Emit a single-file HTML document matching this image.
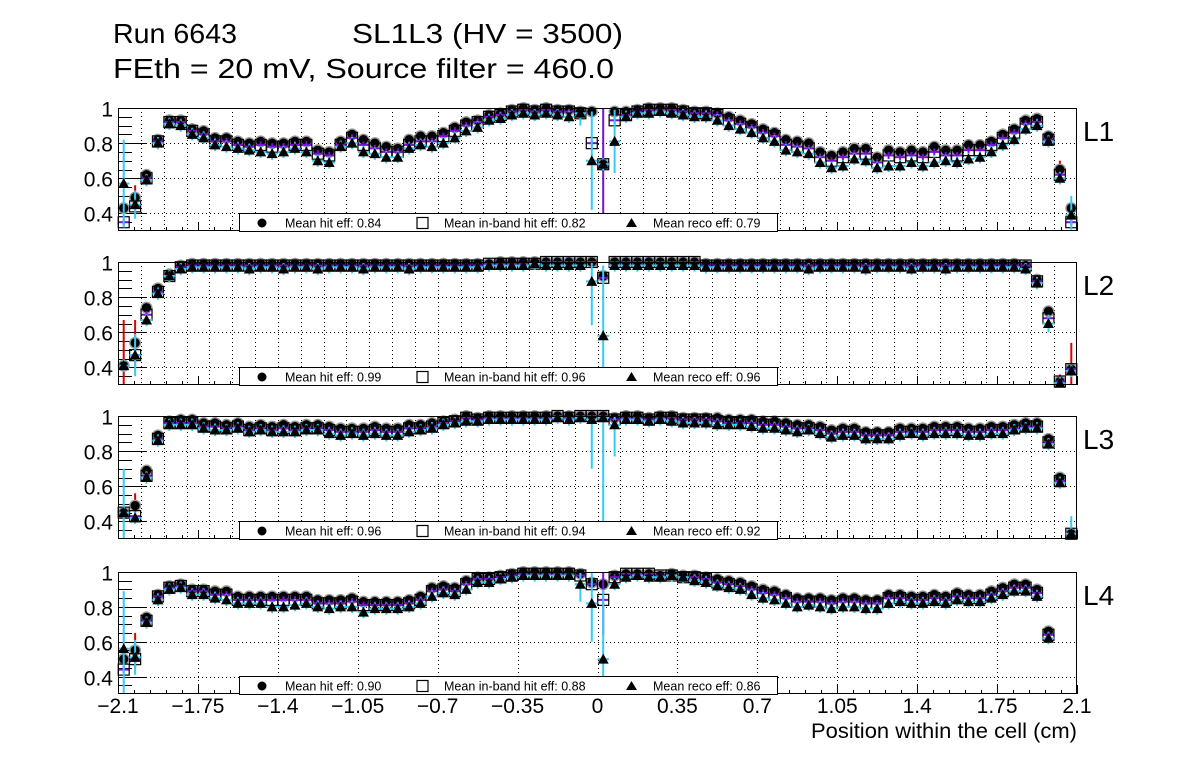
<!DOCTYPE html>
<html><head><meta charset="utf-8">
<style>
html,body{margin:0;padding:0;background:#fff;}
svg{display:block;font-family:"Liberation Sans",Arial,sans-serif;}
</style></head>
<body>
<svg id="chart" width="1196" height="772" viewBox="0 0 1196 772" xmlns="http://www.w3.org/2000/svg">
<rect x="0" y="0" width="1196" height="772" fill="#fff"/>
<text x="113" y="43" font-size="28" textLength="124" lengthAdjust="spacingAndGlyphs">Run 6643</text>
<text x="352" y="43" font-size="28" textLength="271" lengthAdjust="spacingAndGlyphs">SL1L3 (HV = 3500)</text>
<text x="113" y="78" font-size="28" textLength="501" lengthAdjust="spacingAndGlyphs">FEth = 20 mV, Source filter = 460.0</text>
<text x="1077" y="738" font-size="21" text-anchor="end" textLength="266" lengthAdjust="spacingAndGlyphs">Position within the cell (cm)</text>
<g id="panels"></g>
</svg>
<script>
const binLow = -2.1;
const binWidth = 0.05;
const nBins = 84;
const layerNames = ["L1","L2","L3","L4"];
const xTickLabels = ["\u22122.1","\u22121.75","\u22121.4","\u22121.05","\u22120.7","\u22120.35","0","0.35","0.7","1.05","1.4","1.75","2.1"];
const xTickValues = [-2.1,-1.75,-1.4,-1.05,-0.7,-0.35,0,0.35,0.7,1.05,1.4,1.75,2.1];
const yTickValues = [0.4,0.6,0.8,1.0];
const yTickLabels = ["0.4","0.6","0.8","1"];
const meanHit = ["0.84","0.99","0.96","0.90"];
const meanInband = ["0.82","0.96","0.94","0.88"];
const meanReco = ["0.79","0.96","0.92","0.86"];

const hitL1 = [0.43,0.49,0.62,0.82,0.93,0.93,0.88,0.87,0.83,0.83,0.81,0.80,0.81,0.80,0.80,0.81,0.81,0.76,0.75,0.81,0.85,0.82,0.80,0.78,0.77,0.82,0.84,0.84,0.86,0.89,0.92,0.93,0.96,0.97,0.99,1.0,0.99,1.0,0.99,0.99,0.98,0.98,
0.68,0.98,0.98,0.99,1.0,1.0,1.0,0.99,0.98,0.98,0.97,0.95,0.93,0.91,0.88,0.86,0.82,0.81,0.80,0.75,0.73,0.75,0.77,0.77,0.72,0.76,0.75,0.76,0.75,0.78,0.76,0.76,0.79,0.79,0.81,0.85,0.88,0.93,0.94,0.84,0.65,0.43];
const inbandL1 = [0.35,0.44,0.60,0.81,0.92,0.92,0.87,0.85,0.81,0.81,0.79,0.78,0.79,0.78,0.78,0.79,0.79,0.74,0.73,0.79,0.83,0.79,0.77,0.75,0.75,0.79,0.81,0.81,0.84,0.87,0.90,0.92,0.95,0.96,0.98,0.99,0.98,0.99,0.98,0.98,0.97,0.80,
0.68,0.93,0.96,0.98,0.99,0.99,0.99,0.98,0.97,0.97,0.96,0.93,0.91,0.89,0.86,0.84,0.79,0.78,0.77,0.72,0.70,0.72,0.74,0.74,0.69,0.73,0.72,0.73,0.72,0.75,0.73,0.73,0.76,0.76,0.79,0.83,0.86,0.91,0.92,0.82,0.62,0.35];
const recoL1 = [0.57,0.45,0.59,0.80,0.91,0.90,0.85,0.83,0.79,0.78,0.77,0.76,0.75,0.74,0.75,0.77,0.75,0.70,0.69,0.78,0.80,0.75,0.74,0.72,0.72,0.77,0.79,0.78,0.80,0.83,0.87,0.89,0.93,0.94,0.96,0.97,0.96,0.97,0.96,0.95,0.97,0.70,
0.68,0.81,0.95,0.97,0.97,0.98,0.97,0.96,0.95,0.95,0.93,0.90,0.88,0.86,0.83,0.81,0.76,0.75,0.74,0.69,0.66,0.67,0.71,0.70,0.66,0.67,0.67,0.69,0.67,0.69,0.70,0.69,0.71,0.72,0.75,0.79,0.82,0.88,0.90,0.81,0.60,0.39];

const hitL2 = [0.41,0.54,0.74,0.85,0.93,0.98,0.99,0.99,0.99,0.99,
0.99,0.99,0.99,0.99,0.99,0.99,0.99,0.99,0.99,0.99,
0.99,0.99,0.99,0.99,0.99,0.99,0.99,0.99,0.99,0.99,
0.99,0.99,0.99,1.0,1.0,1.0,1.0,1.0,1.0,1.0,
1.0,1.0,0.92,1.0,1.0,1.0,1.0,1.0,1.0,1.0,
1.0,0.99,0.99,0.99,0.99,0.99,0.99,0.99,0.99,0.99,
0.99,0.99,0.99,0.99,0.99,0.99,0.99,0.99,0.99,0.99,
0.99,0.99,0.99,0.99,0.99,0.99,0.99,0.99,0.99,0.98,
0.90,0.72,0.32,0.39];
const inbandL2 = [null,0.47,0.70,0.83,0.92,0.97,0.98,0.98,0.98,0.98,
0.98,0.98,0.98,0.98,0.98,0.98,0.98,0.98,0.98,0.98,
0.98,0.98,0.98,0.98,0.98,0.98,0.98,0.98,0.98,0.98,
0.98,0.98,0.99,0.99,0.99,0.99,0.99,1.0,1.0,1.0,
1.0,1.0,0.91,1.0,1.0,1.0,1.0,1.0,1.0,1.0,
1.0,0.98,0.98,0.98,0.98,0.98,0.98,0.98,0.98,0.98,
0.98,0.98,0.98,0.98,0.98,0.98,0.98,0.98,0.98,0.98,
0.98,0.98,0.98,0.98,0.98,0.98,0.98,0.98,0.98,0.98,
0.89,0.68,0.32,0.39];
const recoL2 = [0.41,0.47,0.67,0.82,0.92,0.96,0.97,0.97,0.97,0.97,
0.97,0.96,0.97,0.97,0.96,0.97,0.97,0.96,0.97,0.97,
0.97,0.96,0.97,0.97,0.97,0.96,0.97,0.97,0.97,0.97,
0.97,0.97,0.98,0.98,0.98,0.98,0.99,0.98,0.98,0.98,
0.98,0.89,0.58,0.98,0.98,0.98,0.98,0.98,0.98,0.98,
0.98,0.97,0.97,0.97,0.97,0.97,0.97,0.97,0.97,0.97,
0.96,0.97,0.97,0.97,0.97,0.96,0.97,0.97,0.97,0.96,
0.97,0.97,0.96,0.97,0.97,0.97,0.97,0.97,0.97,0.96,
0.88,0.65,0.31,0.38];

const hitL3 = [0.45,0.49,0.69,0.89,0.97,0.98,0.98,0.96,0.96,0.95,
0.96,0.94,0.95,0.94,0.95,0.94,0.95,0.95,0.94,0.93,
0.93,0.93,0.94,0.93,0.93,0.95,0.95,0.96,0.97,0.98,
1.0,0.99,1.0,1.0,1.0,1.0,1.0,1.0,1.0,1.0,
1.0,1.0,1.0,0.99,1.0,1.0,0.99,1.0,1.0,0.99,
0.99,0.99,0.99,0.98,0.98,0.98,0.97,0.97,0.96,0.95,
0.95,0.94,0.92,0.93,0.93,0.91,0.91,0.91,0.93,0.93,
0.93,0.94,0.94,0.94,0.93,0.93,0.94,0.94,0.95,0.96,
0.96,0.87,0.65,0.33];
const inbandL3 = [0.45,0.43,0.66,0.87,0.96,0.96,0.96,0.94,0.94,0.93,
0.94,0.92,0.93,0.92,0.93,0.92,0.93,0.93,0.92,0.91,
0.91,0.91,0.92,0.91,0.91,0.93,0.93,0.94,0.96,0.97,
0.99,0.98,0.99,0.99,0.99,0.99,0.99,0.99,1.0,0.99,
1.0,1.0,1.0,0.98,0.99,0.99,0.98,0.99,0.99,0.98,
0.98,0.98,0.97,0.96,0.96,0.96,0.95,0.95,0.94,0.93,
0.93,0.92,0.90,0.91,0.91,0.89,0.89,0.89,0.91,0.91,
0.91,0.92,0.92,0.92,0.91,0.91,0.92,0.92,0.93,0.94,
0.94,0.85,0.63,0.33];
const recoL3 = [0.45,0.42,0.65,0.86,0.95,0.95,0.95,0.93,0.92,0.92,
0.93,0.91,0.92,0.91,0.91,0.91,0.92,0.92,0.90,0.89,
0.90,0.89,0.90,0.89,0.89,0.91,0.92,0.93,0.95,0.96,
0.97,0.97,0.98,0.98,0.98,0.98,0.98,0.98,0.99,0.98,
0.99,0.98,0.99,0.95,0.98,0.98,0.97,0.98,0.97,0.96,
0.96,0.96,0.95,0.95,0.95,0.94,0.93,0.93,0.92,0.91,
0.92,0.90,0.88,0.89,0.89,0.87,0.87,0.87,0.89,0.90,
0.89,0.90,0.90,0.90,0.89,0.89,0.90,0.90,0.92,0.93,
0.93,0.84,0.62,0.33];

const hitL4 = [0.50,0.55,0.74,0.87,0.92,0.93,0.90,0.90,0.89,0.89,
0.86,0.86,0.86,0.86,0.86,0.86,0.86,0.84,0.84,0.84,
0.85,0.83,0.83,0.83,0.83,0.84,0.86,0.91,0.92,0.91,
0.95,0.97,0.97,0.98,0.99,1.0,1.0,1.0,1.0,1.0,
0.99,0.94,0.93,0.98,0.99,0.99,0.99,0.98,0.99,0.98,
0.98,0.97,0.96,0.95,0.94,0.92,0.90,0.89,0.87,0.85,
0.85,0.85,0.84,0.85,0.85,0.84,0.84,0.87,0.87,0.86,
0.86,0.87,0.86,0.88,0.87,0.87,0.89,0.91,0.93,0.93,
0.90,0.66,null,null];
const inbandL4 = [0.44,0.50,0.72,0.86,0.91,0.92,0.89,0.89,0.87,0.87,
0.84,0.84,0.84,0.84,0.84,0.84,0.84,0.82,0.82,0.82,
0.83,0.81,0.81,0.81,0.81,0.82,0.84,0.89,0.90,0.89,
0.93,0.96,0.96,0.97,0.98,0.99,0.99,0.99,0.99,0.99,
0.98,0.93,0.84,0.97,0.99,0.99,0.99,0.98,0.98,0.97,
0.97,0.96,0.94,0.93,0.92,0.90,0.88,0.87,0.85,0.83,
0.83,0.83,0.82,0.83,0.83,0.82,0.82,0.85,0.85,0.84,
0.84,0.85,0.84,0.86,0.85,0.85,0.87,0.89,0.91,0.91,
0.88,0.64,null,null];
const recoL4 = [0.56,0.51,0.71,0.84,0.90,0.91,0.87,0.87,0.85,0.84,
0.82,0.82,0.82,0.80,0.80,0.81,0.82,0.80,0.79,0.80,
0.80,0.77,0.79,0.79,0.79,0.80,0.82,0.86,0.88,0.87,
0.90,0.94,0.94,0.96,0.97,0.98,0.98,0.98,0.98,0.98,
0.93,0.82,0.50,0.93,0.97,0.98,0.97,0.97,0.98,0.97,
0.95,0.94,0.92,0.91,0.90,0.87,0.85,0.84,0.82,0.80,
0.81,0.80,0.79,0.80,0.80,0.79,0.79,0.82,0.83,0.82,
0.82,0.83,0.82,0.84,0.83,0.83,0.85,0.87,0.89,0.89,
0.86,0.62,null,null];

const hitErrL1 = {1:0.07,82:0.05};
const inbandErrL1 = {42:0.4};
const recoErrL1 = {0:0.25,1:0.08,40:0.07,41:0.28,43:0.18,83:0.11};
const hitErrL2 = {0:0.26,1:0.13,82:0.04,83:0.15};
const inbandErrL2 = {};
const recoErrL2 = {1:0.12,41:0.25,42:0.4,81:0.05};
const hitErrL3 = {1:0.07};
const inbandErrL3 = {};
const recoErrL3 = {0:0.25,41:0.28,42:0.7,43:0.18,83:0.1};
const hitErrL4 = {1:0.1};
const inbandErrL4 = {42:0.2};
const recoErrL4 = {0:0.33,1:0.1,40:0.1,41:0.22,42:0.4};

const hitSeries = [hitL1,hitL2,hitL3,hitL4];
const inbandSeries = [inbandL1,inbandL2,inbandL3,inbandL4];
const recoSeries = [recoL1,recoL2,recoL3,recoL4];
const hitErrs = [hitErrL1,hitErrL2,hitErrL3,hitErrL4];
const inbandErrs = [inbandErrL1,inbandErrL2,inbandErrL3,inbandErrL4];
const recoErrs = [recoErrL1,recoErrL2,recoErrL3,recoErrL4];

const NS = "http://www.w3.org/2000/svg";
const X0 = 118, X1 = 1077;
const panelTops = [108,262,416,572];
const panelBottoms = [231,385,539,694];
const yMin = 0.3, yMax = 1.0;
function xScale(v){ return X0 + (v - binLow) / (binWidth*nBins) * (X1 - X0); }
function yScale(p, v){ return panelTops[p] + (yMax - v)/(yMax - yMin)*(panelBottoms[p]-panelTops[p]); }
function mk(tag, attrs, parent){
  const e = document.createElementNS(NS, tag);
  for (const k in attrs) e.setAttribute(k, attrs[k]);
  parent.appendChild(e);
  return e;
}
const root = document.getElementById("panels");

for (let p = 0; p < 4; p++) {
  const top = panelTops[p], bot = panelBottoms[p];
  const g = mk("g", {}, root);
  
  

  const grid = mk("g", {stroke: "#000", "stroke-width": 1, "stroke-dasharray": "1,3"}, g);
  
  
  if (p < 3) {
    for (let i = 1; i <= 41; i++) {
      const gx = Math.round(xScale(-2.1 + 0.1*i)) + 0.5;
      if (gx > X0 + 2 && gx < X1 - 2) mk("line", {x1: gx, x2: gx, y1: top, y2: bot}, grid);
    }
  } else {
    for (let i = 1; i < xTickValues.length - 1; i++) {
      const gx = Math.round(xScale(xTickValues[i])) + 0.5;
      mk("line", {x1: gx, x2: gx, y1: top, y2: bot}, grid);
    }
  }
  for (let i = 0; i < 3; i++) {
    const gy = Math.round(yScale(p, yTickValues[i])) + 0.5;
    mk("line", {x1: X0, x2: X1, y1: gy, y2: gy}, grid);
  }

  for (let i = 0; i < yTickValues.length; i++) {
    const ty = Math.round(yScale(p, yTickValues[i])) + 0.5;
    mk("line", {x1: X0, x2: X0 + 28, y1: ty, y2: ty, stroke: "#000", "stroke-width": 1}, g);
    const t = mk("text", {x: 113, y: ty + 8, "font-size": 21, "text-anchor": "end"}, g);
    t.textContent = yTickLabels[i];
    
    
  }
  for (let v = 0.35; v < 1.0; v += 0.05) {
    if (Math.abs(Math.round(v*100) % 20) < 0.01) continue;
    const ty = Math.round(yScale(p, v)) + 0.5;
    mk("line", {x1: X0, x2: X0 + 14, y1: ty, y2: ty, stroke: "#000", "stroke-width": 1}, g);
  }
  for (let i = 0; i <= 60; i++) {
    const v = -2.1 + 0.07*i;
    const tx = Math.round(xScale(v)) + 0.5;
    const len = (i % 5 === 0) ? 9 : 4;
    mk("line", {x1: tx, x2: tx, y1: bot, y2: bot - len, stroke: "#000", "stroke-width": 1}, g);
  }
  if (p === 3) {
    for (let i = 0; i < xTickValues.length; i++) {
      const t = mk("text", {x: xScale(xTickValues[i]), y: 713, "font-size": 21, "text-anchor": "middle"}, g);
      t.textContent = xTickLabels[i];
      
      
    }
  }

  const dg = mk("g", {}, g);
  const hw = (xScale(binWidth) - xScale(0)) / 2;
  function drawErr(series, errs, def, color, name) {
    const eg = mk("g", {stroke: color, "stroke-width": 2}, dg);
    
    
    for (let k = 0; k < nBins; k++) {
      const v = series[k]; if (v === null) continue;
      const e = (errs[k] !== undefined) ? errs[k] : def;
      const cx = xScale(binLow + binWidth*(k + 0.5));
      const y = yScale(p, v);
      mk("line", {x1: cx, x2: cx, y1: yScale(p, Math.min(v + e, yMax)), y2: yScale(p, Math.max(v - e, yMin))}, eg);
      mk("line", {x1: cx - hw, x2: cx + hw, y1: y, y2: y}, eg);
    }
  }
  drawErr(hitSeries[p], hitErrs[p], 0.028, "#dd0000", "hit-error-bars");
  const cg = mk("g", {}, dg);
  
  
  for (let k = 0; k < nBins; k++) {
    const v = hitSeries[p][k]; if (v === null) continue;
    const cx = xScale(binLow + binWidth*(k + 0.5)), cy = yScale(p, v);
    mk("circle", {cx: cx, cy: cy, r: 6, fill: "#999"}, cg);
    const c = mk("circle", {cx: cx, cy: cy, r: 4.6, fill: "#000"}, cg);
    
    
  }
  drawErr(inbandSeries[p], inbandErrs[p], 0.02, "#7a10d8", "inband-error-bars");
  const sg = mk("g", {}, dg);
  
  
  for (let k = 0; k < nBins; k++) {
    const v = inbandSeries[p][k]; if (v === null) continue;
    const cx = xScale(binLow + binWidth*(k + 0.5)), cy = yScale(p, v);
    const r = mk("rect", {x: cx - 5.5, y: cy - 5.5, width: 11, height: 11, fill: "none", stroke: "#000", "stroke-width": 1.2}, sg);
    
    
  }
  drawErr(recoSeries[p], recoErrs[p], 0.035, "#33ccf5", "reco-error-bars");
  const tg = mk("g", {}, dg);
  
  
  for (let k = 0; k < nBins; k++) {
    const v = recoSeries[p][k]; if (v === null) continue;
    const cx = xScale(binLow + binWidth*(k + 0.5)), cy = yScale(p, v);
    const t = mk("polygon", {points: (cx-5.5)+","+(cy+4.5)+" "+(cx+5.5)+","+(cy+4.5)+" "+cx+","+(cy-5.5), fill: "#000"}, tg);
    
    
  }

  const fr = mk("rect", {x: X0 + 0.5, y: top + 0.5, width: X1 - X0 - 1, height: bot - top - 1, fill: "none", stroke: "#000", "stroke-width": 1}, g);
  
  

  const ll = mk("text", {x: 1083, y: top + 33, "font-size": 28}, g);
  ll.textContent = layerNames[p];
  
  

  const lg = mk("g", {}, g);
  
  
  const ly = bot - 18;
  mk("rect", {x: 239.5, y: ly + 0.5, width: 538, height: 18, fill: "#fff", stroke: "#000", "stroke-width": 1}, lg);
  const my = ly + 10;
  mk("circle", {cx: 262, cy: my, r: 4.5, fill: "#000"}, lg);
  mk("rect", {x: 417, y: my - 5.5, width: 11, height: 11, fill: "none", stroke: "#000", "stroke-width": 1.2}, lg);
  mk("polygon", {points: "626,"+(my+4)+" 637,"+(my+4)+" 631.5,"+(my-5), fill: "#000"}, lg);
  const t1 = mk("text", {x: 285, y: my + 4.5, "font-size": 12.5}, lg);
  t1.textContent = "Mean hit  eff: " + meanHit[p];
  
  
  const t2 = mk("text", {x: 444, y: my + 4.5, "font-size": 12.5}, lg);
  t2.textContent = "Mean in-band hit eff: " + meanInband[p];
  
  
  const t3 = mk("text", {x: 653, y: my + 4.5, "font-size": 12.5}, lg);
  t3.textContent = "Mean reco eff: " + meanReco[p];
  
  
}
</script>
</body></html>
